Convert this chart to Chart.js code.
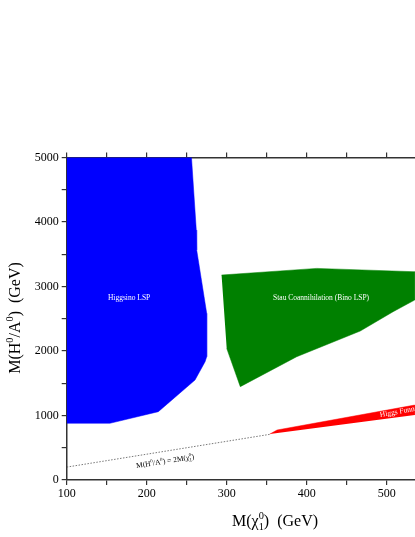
<!DOCTYPE html>
<html>
<head>
<meta charset="utf-8">
<script src="https://cdn.jsdelivr.net/npm/chart.js@4.4.0/dist/chart.umd.min.js"></script>
<style>
  html, body { margin: 0; padding: 0; background: #fff; overflow: hidden; }
</style>
</head>
<body>
<canvas id="chart" width="415" height="537"></canvas>
<script>
// region outlines (x = M(chi), y = M(H/A), both GeV)
const higgsinoX = [100, 256, 262, 262.5, 275, 275, 273, 260.4, 229, 214.5, 154, 100];
const higgsinoY = [5000, 5000, 3875, 3565, 2584, 1911, 1834, 1550, 1214, 1059, 879, 879];

const stauX = [293.6, 412.5, 535, 535, 508, 467, 387.5, 317, 300];
const stauY = [3178, 3281, 3229, 2790, 2609, 2310, 1911, 1447, 2041];

const funnelX = [354, 363, 535, 535];
const funnelY = [713, 775, 1162, 1007];

const lineX = [100, 354];
const lineY = [200, 708];

const xTicks = [100, 200, 300, 400, 500];
const xMinorTicks = [100, 150, 200, 250, 300, 350, 400, 450, 500];
const yTicks = [0, 1000, 2000, 3000, 4000, 5000];

const SERIF = "'Liberation Serif', 'Times New Roman', serif";
const AXIS = '#333';

function pts(xs, ys) {
  return xs.map((x, i) => ({ x: x, y: ys[i] }));
}

function region(label, xs, ys, color) {
  return {
    label: label,
    data: pts(xs, ys),
    showLine: true,
    fill: 'shape',
    backgroundColor: color,
    borderColor: color,
    borderWidth: 0.5,
    pointRadius: 0,
    tension: 0
  };
}

// text with super/subscripts; parts are strings or {sup, sub}
function richWidth(ctx, parts, size) {
  let w = 0;
  parts.forEach(p => {
    if (typeof p === 'string') {
      ctx.font = size + 'px ' + SERIF;
      w += ctx.measureText(p).width;
    } else {
      ctx.font = (size * 0.65) + 'px ' + SERIF;
      w += Math.max(ctx.measureText(p.sup || '').width, ctx.measureText(p.sub || '').width);
    }
  });
  return w;
}

function drawRich(ctx, parts, size, x, y) {
  ctx.textAlign = 'left';
  ctx.textBaseline = 'alphabetic';
  let cx = x;
  parts.forEach(p => {
    if (typeof p === 'string') {
      ctx.font = size + 'px ' + SERIF;
      ctx.fillText(p, cx, y);
      cx += ctx.measureText(p).width;
    } else {
      ctx.font = (size * 0.65) + 'px ' + SERIF;
      let w = 0;
      if (p.sup) { ctx.fillText(p.sup, cx, y - size * 0.42); w = ctx.measureText(p.sup).width; }
      if (p.sub) { ctx.fillText(p.sub, cx, y + size * 0.25); w = Math.max(w, ctx.measureText(p.sub).width); }
      cx += w;
    }
  });
}

const labelsPlugin = {
  id: 'labels',
  afterDatasetsDraw(chart) {
    const ctx = chart.ctx;
    const xs = chart.scales.x, ys = chart.scales.y;
    ctx.save();

    ctx.fillStyle = '#fff';
    ctx.textAlign = 'center';
    ctx.textBaseline = 'middle';
    ctx.font = '7.5px ' + SERIF;
    ctx.fillText('Higgsino LSP', xs.getPixelForValue(178), ys.getPixelForValue(2821));
    ctx.fillText('Stau Coannihilation (Bino LSP)', xs.getPixelForValue(418), ys.getPixelForValue(2821));

    ctx.save();
    ctx.translate(xs.getPixelForValue(491.6), ys.getPixelForValue(1007));
    ctx.rotate(-10 * Math.PI / 180);
    ctx.textAlign = 'left';
    ctx.fillText('Higgs Funnel', 0, 0);
    ctx.restore();

    // label for the dotted line
    ctx.fillStyle = '#000';
    const lp = ['M(H', { sup: '0' }, '/A', { sup: '0' }, ') = 2M(\u03c7', { sup: '0', sub: '1' }, ')'];
    ctx.save();
    ctx.translate(xs.getPixelForValue(223), ys.getPixelForValue(294));
    ctx.rotate(-9 * Math.PI / 180);
    const lw = richWidth(ctx, lp, 7.5);
    drawRich(ctx, lp, 7.5, -lw / 2, 2.5);
    ctx.restore();

    ctx.restore();
  },
  afterDraw(chart) {
    const ctx = chart.ctx;
    ctx.save();
    ctx.fillStyle = '#000';

    const xt = ['M(\u03c7', { sup: '0', sub: '1' }, ')  (GeV)'];
    const xw = richWidth(ctx, xt, 16);
    drawRich(ctx, xt, 16, 275 - xw / 2, 526);

    const yt = ['M(H', { sup: '0' }, '/A', { sup: '0' }, ')  (GeV)'];
    ctx.translate(20, 318);
    ctx.rotate(-Math.PI / 2);
    const yw = richWidth(ctx, yt, 16);
    drawRich(ctx, yt, 16, -yw / 2, 0);
    ctx.restore();
  }
};

const tickGrid = {
  drawOnChartArea: false,
  drawTicks: true,
  tickLength: 5,
  color: AXIS,
  lineWidth: 1.2
};

const setXTicks = s => { s.ticks = xMinorTicks.map(v => ({ value: v })); };

new Chart(document.getElementById('chart'), {
  type: 'scatter',
  data: {
    datasets: [
      region('Higgsino LSP', higgsinoX, higgsinoY, '#0000ff'),
      region('Stau Coannihilation (Bino LSP)', stauX, stauY, '#008000'),
      region('Higgs Funnel', funnelX, funnelY, '#ff0000'),
      {
        label: 'M(H/A) = 2M(chi)',
        data: pts(lineX, lineY),
        showLine: true,
        fill: false,
        borderColor: '#555',
        borderWidth: 0.8,
        borderDash: [1.5, 1.5],
        pointRadius: 0
      }
    ]
  },
  options: {
    responsive: false,
    animation: false,
    layout: { padding: 0 },
    plugins: {
      legend: { display: false },
      tooltip: { enabled: false }
    },
    scales: {
      x: {
        type: 'linear',
        position: 'bottom',
        min: 100,
        max: 535.4,
        afterBuildTicks: setXTicks,
        afterFit: s => { s.height = 57; },
        border: { display: true, color: AXIS, width: 1.5 },
        grid: tickGrid,
        ticks: {
          autoSkip: false,
          maxRotation: 0,
          padding: 2,
          color: '#000',
          font: { family: SERIF, size: 12 },
          callback: v => xTicks.includes(v) ? String(v) : ''
        }
      },
      x2: {
        type: 'linear',
        position: 'top',
        min: 100,
        max: 535.4,
        afterBuildTicks: setXTicks,
        afterFit: s => { s.height = 157.5; },
        border: { display: true, color: AXIS, width: 1.5 },
        grid: tickGrid,
        ticks: {
          autoSkip: false,
          maxRotation: 0,
          callback: () => ''
        }
      },
      y: {
        type: 'linear',
        min: 0,
        max: 5000,
        afterFit: s => { s.width = 66.7; },
        border: { display: true, color: AXIS, width: 1.5 },
        grid: tickGrid,
        ticks: {
          stepSize: 500,
          autoSkip: false,
          padding: 3,
          color: '#000',
          font: { family: SERIF, size: 12 },
          callback: v => yTicks.includes(v) ? String(v) : ''
        }
      }
    }
  },
  plugins: [labelsPlugin]
});
</script>
</body>
</html>
